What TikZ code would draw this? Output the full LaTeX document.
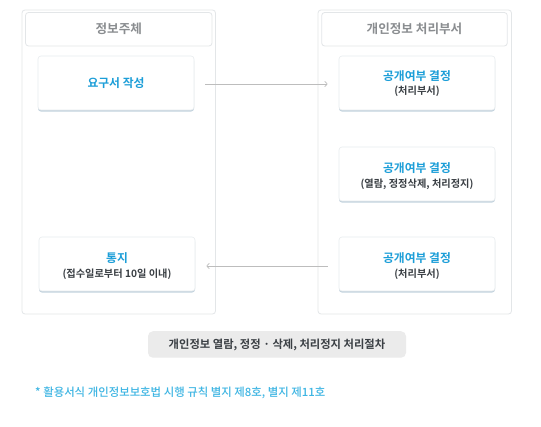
\documentclass[tikz,border=0pt]{standalone}
\usepackage{fontspec}
\newfontfamily\kr{Noto Sans CJK KR Medium}
\newfontfamily\krb{Noto Sans CJK KR Bold}
\usetikzlibrary{arrows.meta,shadows}
\definecolor{paneline}{HTML}{E3E6E8}
\definecolor{boxline}{HTML}{E8ECEE}
\definecolor{shadowc}{HTML}{C3D3DE}
\definecolor{titleblue}{HTML}{1C9ED8}
\definecolor{subgray}{HTML}{3A3F44}
\definecolor{headgray}{HTML}{8A8D90}
\definecolor{arrowgray}{HTML}{BDBDBD}
\definecolor{labelfill}{HTML}{EBEBEB}
\definecolor{notecol}{HTML}{3DB5E3}
\tikzset{
  panel/.style={draw=paneline,line width=0.8pt,rounded corners=3pt,fill=white},
  headbox/.style={draw=paneline,line width=0.8pt,rounded corners=3pt,fill=white,
    minimum height=33.5pt,inner sep=0pt,font=\krb\fontsize{12.6}{14}\selectfont,text=headgray},
  stepbox/.style={draw=boxline,line width=0.6pt,rounded corners=3pt,fill=white,
    minimum width=156pt,minimum height=54pt,inner sep=0pt,align=center,
    drop shadow={shadow xshift=0pt,shadow yshift=-1.6pt,fill=shadowc,opacity=1}},
  ttl/.style={font=\krb\fontsize{11.8}{14}\selectfont,text=titleblue},
  sub/.style={font=\krb\fontsize{10.2}{12}\selectfont,text=subgray},
  link/.style={draw=arrowgray,line width=0.6pt,-{Straight Barb[length=2.6pt,width=5.5pt,line width=0.6pt]},
    shorten >=11pt,shorten <=11pt}
}
\begin{document}
\begin{tikzpicture}[x=1pt,y=-1pt]
\useasboundingbox (0,0) rectangle (541,427);
\fill[white] (0,0) rectangle (541,427);
% panels
\draw[panel] (22,10) rectangle (215.5,314);
\draw[panel] (318,10) rectangle (511.5,314);
% headers
\node[headbox,minimum width=186.5pt] (h1) at (118.75,29.25) {정보주체};
\node[headbox,minimum width=185.6pt] (h2) at (414.5,29.25) {개인정보 처리부서};
% step boxes
\node[stepbox] (req) at (116,83) {\textcolor{titleblue}{\krb\fontsize{11.8}{14}\selectfont 요구서 작성}};
\node[stepbox] (d1) at (417,83) {};
\node[ttl] (d1t) at (417,76) {공개여부 결정};
\node[sub] (d1s) at (417,91.5) {(처리부서)};
\node[stepbox] (d2) at (417,174) {};
\node[ttl] (d2t) at (417,168) {공개여부 결정};
\node[sub] (d2s) at (417,184) {(열람, 정정삭제, 처리정지)};
\node[stepbox] (d3) at (417,264) {};
\node[ttl] (d3t) at (417,258.5) {공개여부 결정};
\node[sub] (d3s) at (417,274) {(처리부서)};
\node[stepbox] (nt) at (117,264) {};
\node[ttl] (ntt) at (117,258.5) {통지};
\node[sub] (nts) at (117,274) {(접수일로부터 10일 이내)};
% arrows
\draw[link] (req.east) ++(0,1) coordinate (a1) -- (a1 -| d1.west);
\draw[link] (d3.west) ++(0,2) coordinate (a2) -- (a2 -| nt.east);
% label
\node[fill=labelfill,rounded corners=5pt,minimum width=258pt,minimum height=26.5pt,inner sep=0pt,
  font=\krb\fontsize{11.3}{13}\selectfont,text=subgray] (lbl) at (277,344.5) {개인정보 열람, 정정 · 삭제, 처리정지 처리절차};
% note
\node[anchor=west,inner sep=0pt,font=\kr\fontsize{11.4}{13}\selectfont,text=notecol] (note) at (35,393) {* 활용서식 개인정보보호법 시행 규칙 별지 제8호, 별지 제11호};
\end{tikzpicture}
\end{document}
